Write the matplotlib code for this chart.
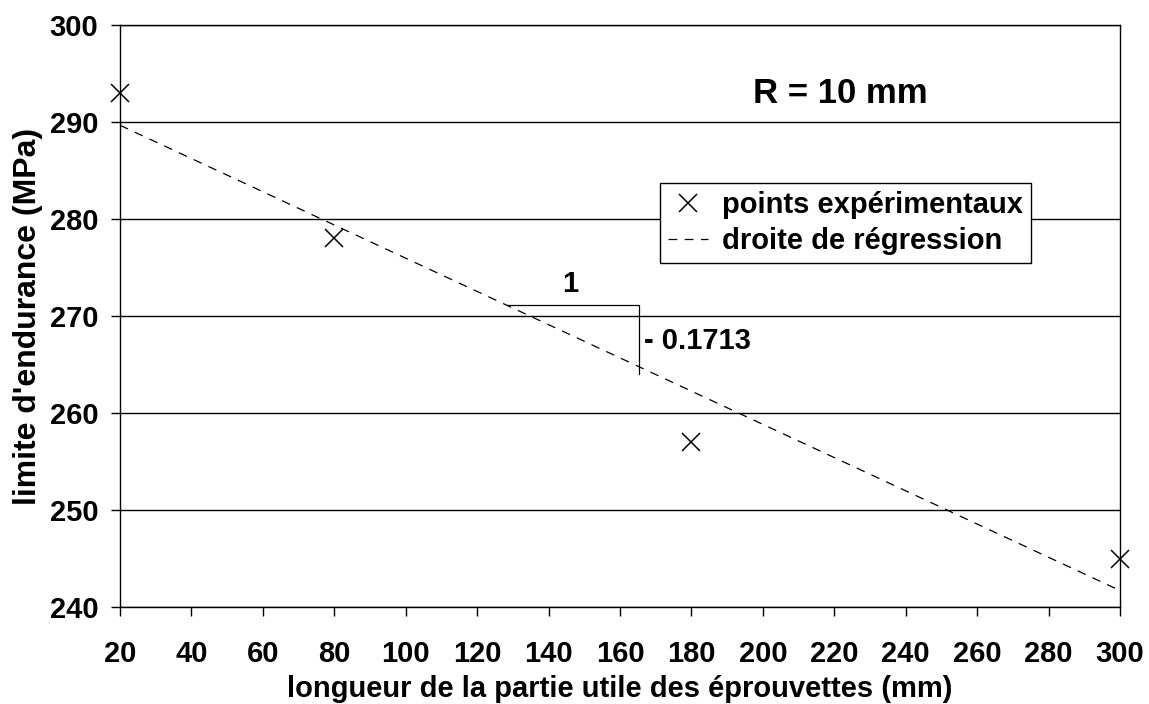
import numpy as np
import matplotlib
matplotlib.use("Agg")
import matplotlib.pyplot as plt

# Measured endurance limits versus specimen gauge length (R = 10 mm)
longueur_mm = [20, 80, 180, 300]
limite_mpa = [293, 278, 257, 245]

x_ticks = list(range(20, 301, 20))
y_ticks = list(range(240, 301, 10))

# Least-squares regression line
pente, ordonnee = np.polyfit(longueur_mm, limite_mpa, 1)
x_fit = np.array([20, 300])
y_fit = pente * x_fit + ordonnee

plt.rcParams["font.family"] = ["Liberation Sans", "DejaVu Sans"]
plt.rcParams["font.weight"] = "bold"

fig = plt.figure(figsize=(11.49, 7.04), dpi=100)
ax = fig.add_axes([120 / 1149, 97 / 704, 1000 / 1149, 582 / 704])

ax.plot(longueur_mm, limite_mpa, linestyle="none", marker="x", color="black",
        markersize=13, markeredgewidth=1.1, label="points expérimentaux",
        clip_on=False, zorder=4)
ax.plot(x_fit, y_fit, color="black", linewidth=0.9, linestyle=(0, (7, 6)),
        label="droite de régression", zorder=3)

ax.set_xlim(20, 300)
ax.set_ylim(240, 300)
ax.set_xticks(x_ticks)
ax.set_yticks(y_ticks)
ax.yaxis.grid(True, color="black", linewidth=1.0)
ax.set_axisbelow(True)
for sp in ax.spines.values():
    sp.set_color("black")
    sp.set_linewidth(1.0)

ax.tick_params(axis="x", direction="out", length=6.5, width=1, pad=17, labelsize=21)
ax.tick_params(axis="y", direction="out", length=6.5, width=1, pad=9, labelsize=21)
for lab in ax.get_xticklabels() + ax.get_yticklabels():
    lab.set_fontweight("bold")

ax.set_xlabel("longueur de la partie utile des éprouvettes (mm)",
              fontsize=21, fontweight="bold", labelpad=5)
ax.set_ylabel("limite d'endurance (MPa)", fontsize=23, fontweight="bold", labelpad=5)

# Slope triangle on the regression line
x0, x1 = 128.4, 165.3
y0 = pente * x0 + ordonnee
y1 = pente * x1 + ordonnee
ax.plot([x0, x1, x1], [y0, y0, y1 - 0.8], color="black", linewidth=0.9, zorder=3)
ax.text((x0 + x1) / 2 - 0.8, y0 + 2.2, "1", ha="center", va="center",
        fontsize=21, fontweight="bold")
ax.text(x1 + 1.5, 267.4, "- %.4f" % abs(pente), ha="left", va="center",
        fontsize=21, fontweight="bold")

ax.text(0.72, 0.883, "R = 10 mm", transform=ax.transAxes, ha="center", va="center",
        fontsize=25, fontweight="bold")

leg = ax.legend(loc="upper left", bbox_to_anchor=(540 / 1000, 0.729),
                fontsize=21, frameon=True, fancybox=False, framealpha=1,
                edgecolor="black", handlelength=1.35, handletextpad=0.5,
                borderpad=0.28, labelspacing=0.28, borderaxespad=0)
leg.get_frame().set_linewidth(1.0)
for t in leg.get_texts():
    t.set_fontweight("bold")

fig.savefig("out.png", dpi=100)
